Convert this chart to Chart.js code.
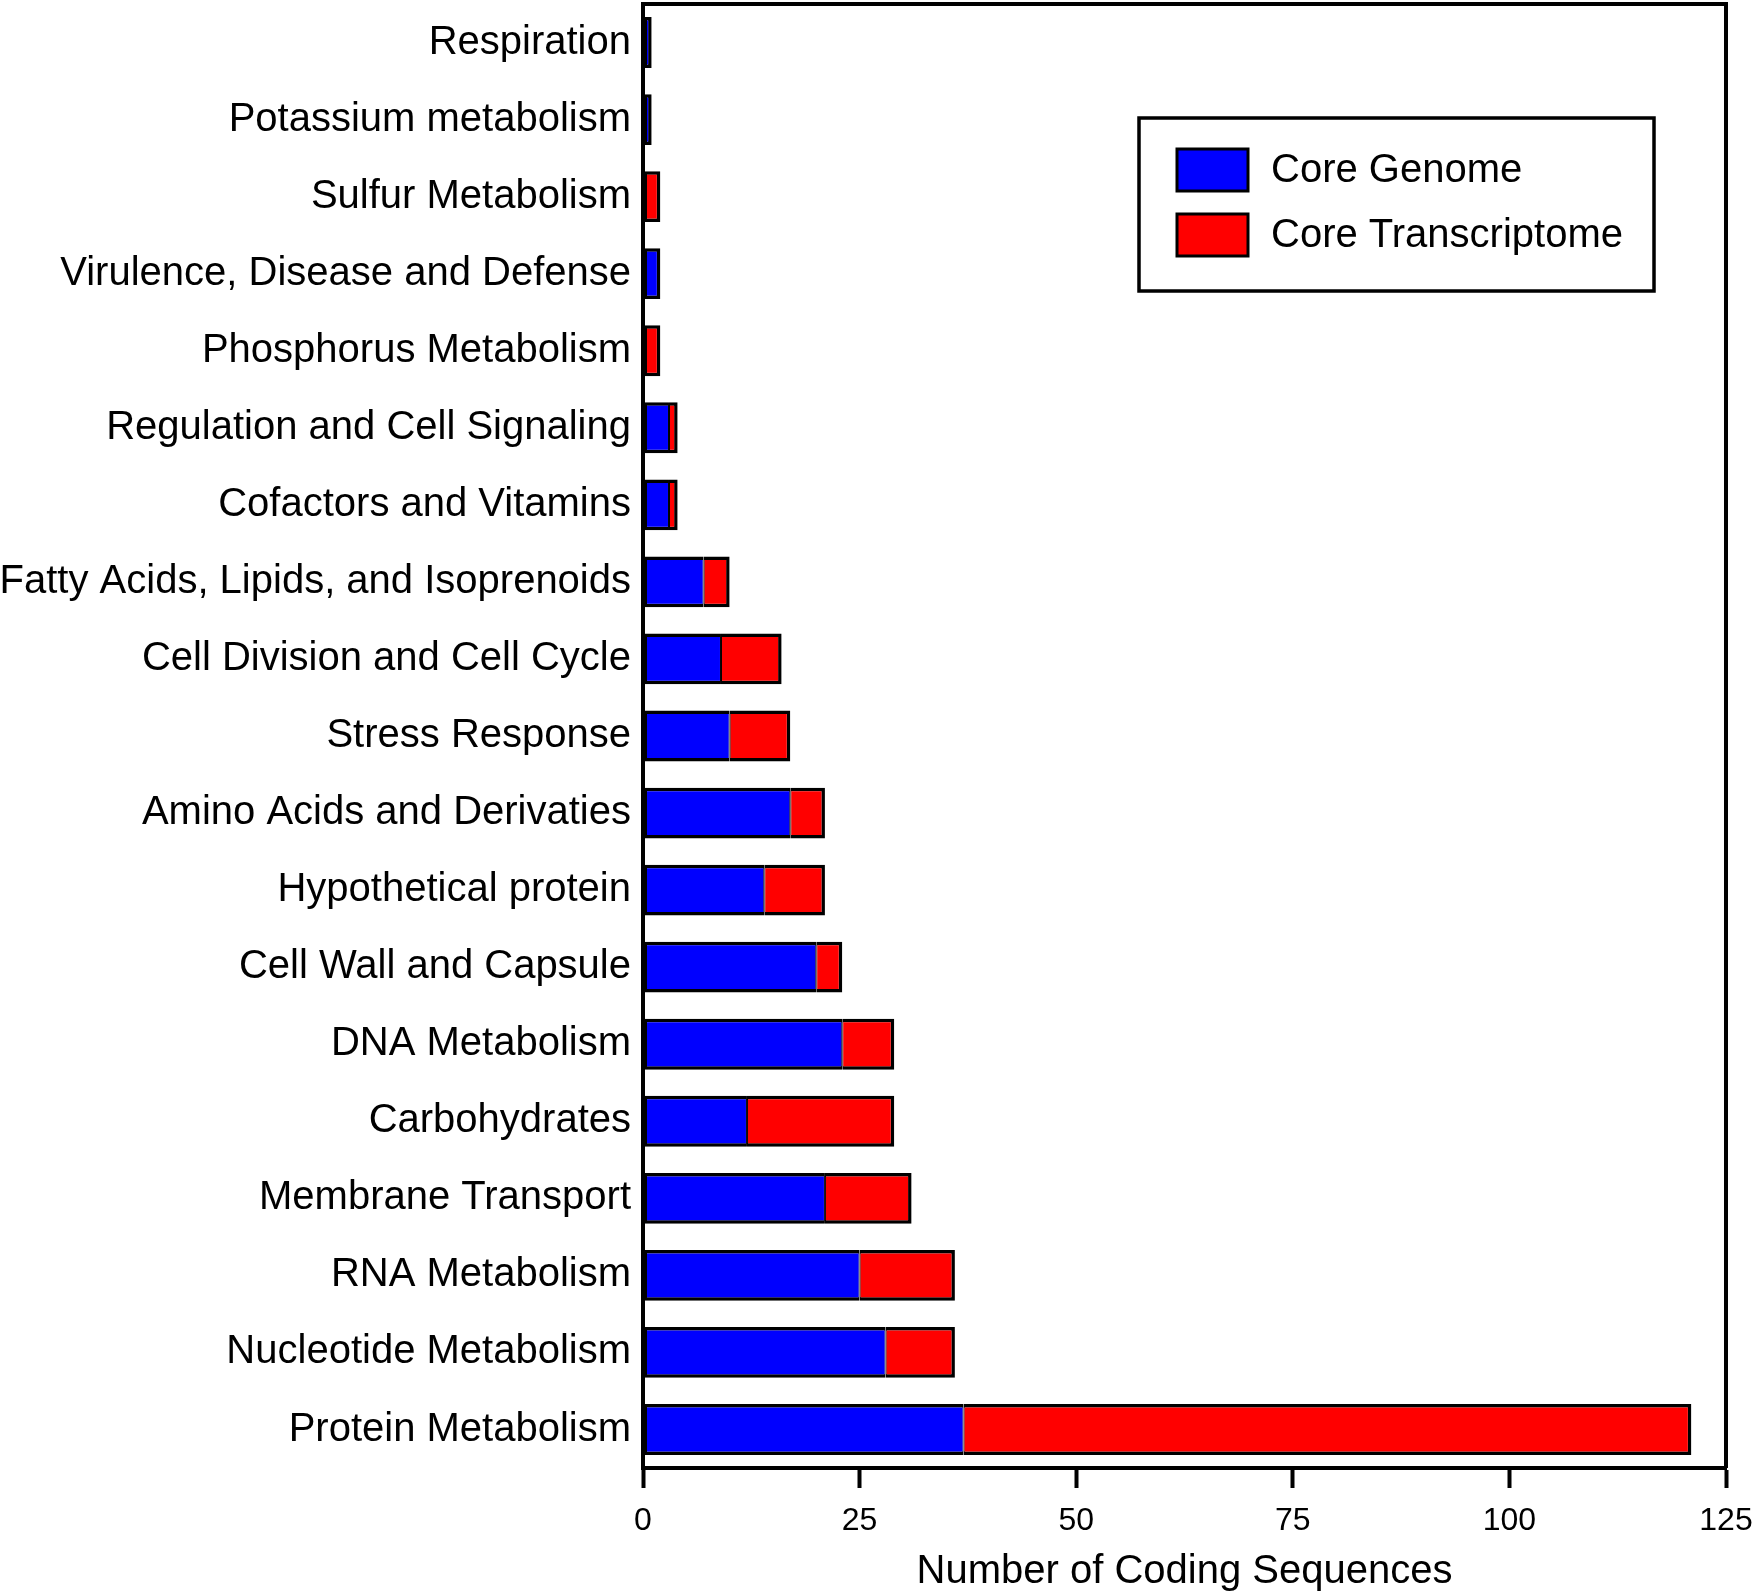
<!DOCTYPE html>
<html>
<head>
<meta charset="utf-8">
<script src="https://cdn.jsdelivr.net/npm/chart.js@4.4.1/dist/chart.umd.min.js"></script>
<style>
    html, body { margin: 0; padding: 0; background: #ffffff; }
    #wrap { width: 1754px; height: 1594px; }
</style>
</head>
<body>
<div id="wrap"><canvas id="codingChart"></canvas></div>
<script>
// subsystem categories, top to bottom
const categories = [
    'Respiration',
    'Potassium metabolism',
    'Sulfur Metabolism',
    'Virulence, Disease and Defense',
    'Phosphorus Metabolism',
    'Regulation and Cell Signaling',
    'Cofactors and Vitamins',
    'Fatty Acids, Lipids, and Isoprenoids',
    'Cell Division and Cell Cycle',
    'Stress Response',
    'Amino Acids and Derivaties',
    'Hypothetical protein',
    'Cell Wall and Capsule',
    'DNA Metabolism',
    'Carbohydrates',
    'Membrane Transport',
    'RNA Metabolism',
    'Nucleotide Metabolism',
    'Protein Metabolism'
];

const coreGenome = [1, 1, 0, 2, 0, 3, 3, 7, 9, 10, 17, 14, 20, 23, 12, 21, 25, 28, 37];
const coreTranscriptome = [0, 0, 2, 0, 2, 1, 1, 3, 7, 7, 4, 7, 3, 6, 17, 10, 11, 8, 84];

const xTicks = [0, 25, 50, 75, 100, 125];

const FONT = '"Liberation Sans", Arial, Helvetica, sans-serif';

// border on the shared edge between the two segments is kept thin
function segmentBorder(otherSeries, side) {
    return function(ctx) {
        const hasOther = otherSeries[ctx.dataIndex] > 0;
        const b = { top: 3.5, bottom: 3.5, left: 3.5, right: 3.5 };
        if (hasOther) {
            b[side] = 1;
        }
        return b;
    };
}

// top and right lines of the plot frame
const framePlugin = {
    id: 'frame',
    afterDraw(chart) {
        const a = chart.chartArea;
        const c = chart.ctx;
        c.save();
        c.strokeStyle = '#000000';
        c.lineWidth = 4;
        c.beginPath();
        c.moveTo(a.left, a.top);
        c.lineTo(a.right, a.top);
        c.lineTo(a.right, a.bottom);
        c.stroke();
        c.restore();
    }
};

// boxed legend inside the plot, top right
const boxLegendPlugin = {
    id: 'boxLegend',
    afterDraw(chart) {
        const a = chart.chartArea;
        const c = chart.ctx;
        const left = a.right - 587;
        const top = a.top + 114;
        const w = 515;
        const h = 173;

        c.save();
        c.fillStyle = '#ffffff';
        c.fillRect(left, top, w, h);
        c.strokeStyle = '#000000';
        c.lineWidth = 3.5;
        c.strokeRect(left, top, w, h);

        c.font = '40px ' + FONT;
        c.textBaseline = 'middle';
        c.textAlign = 'left';

        chart.data.datasets.forEach((ds, i) => {
            const sy = top + 31 + i * 65;
            c.fillStyle = ds.backgroundColor;
            c.fillRect(left + 38, sy, 71, 42);
            c.lineWidth = 3;
            c.strokeStyle = '#000000';
            c.strokeRect(left + 38, sy, 71, 42);
            c.fillStyle = '#000000';
            c.fillText(ds.label, left + 132, sy + 22);
        });
        c.restore();
    }
};

const ctx = document.getElementById('codingChart').getContext('2d');

new Chart(ctx, {

    type: 'bar',

    data: {
        labels: categories,
        datasets: [
            {
                label: 'Core Genome',
                data: coreGenome,
                backgroundColor: '#0000ff',
                borderColor: '#000000',
                borderWidth: segmentBorder(coreTranscriptome, 'right'),
                borderSkipped: false,
                barPercentage: 0.66,
                categoryPercentage: 1
            },
            {
                label: 'Core Transcriptome',
                data: coreTranscriptome,
                backgroundColor: '#ff0000',
                borderColor: '#000000',
                borderWidth: segmentBorder(coreGenome, 'left'),
                borderSkipped: false,
                barPercentage: 0.66,
                categoryPercentage: 1
            }
        ]
    },

    options: {
        indexAxis: 'y',
        responsive: true,
        maintainAspectRatio: false,
        animation: false,
        devicePixelRatio: 1,

        layout: {
            padding: { top: 4, right: 28, left: 0, bottom: 0 }
        },

        plugins: {
            legend: { display: false },
            tooltip: { enabled: false },
            title: { display: false }
        },

        scales: {
            x: {
                type: 'linear',
                stacked: true,
                min: 0,
                max: 125,
                afterBuildTicks(scale) {
                    scale.ticks = xTicks.map(v => ({ value: v }));
                },
                afterFit(scale) {
                    scale.height = 126;
                    scale.paddingLeft = 0;
                    scale.paddingRight = 0;
                },
                grid: {
                    display: true,
                    drawOnChartArea: false,
                    drawTicks: true,
                    tickLength: 20,
                    tickWidth: 4,
                    tickColor: '#000000'
                },
                border: {
                    display: true,
                    color: '#000000',
                    width: 4
                },
                ticks: {
                    color: '#000000',
                    font: { family: FONT, size: 32 },
                    padding: 14,
                    maxRotation: 0
                },
                title: {
                    display: true,
                    text: 'Number of Coding Sequences',
                    color: '#000000',
                    font: { family: FONT, size: 40, lineHeight: 0.8 },
                    padding: { top: 0, bottom: 6 }
                }
            },
            y: {
                stacked: true,
                afterFit(scale) {
                    scale.width = 643;
                    scale.paddingTop = 0;
                    scale.paddingBottom = 0;
                },
                grid: {
                    display: false,
                    drawTicks: false
                },
                border: {
                    display: true,
                    color: '#000000',
                    width: 4
                },
                ticks: {
                    color: '#000000',
                    font: { family: FONT, size: 40 },
                    padding: 12,
                    autoSkip: false
                }
            }
        }
    },

    plugins: [framePlugin, boxLegendPlugin]
});
</script>
</body>
</html>
